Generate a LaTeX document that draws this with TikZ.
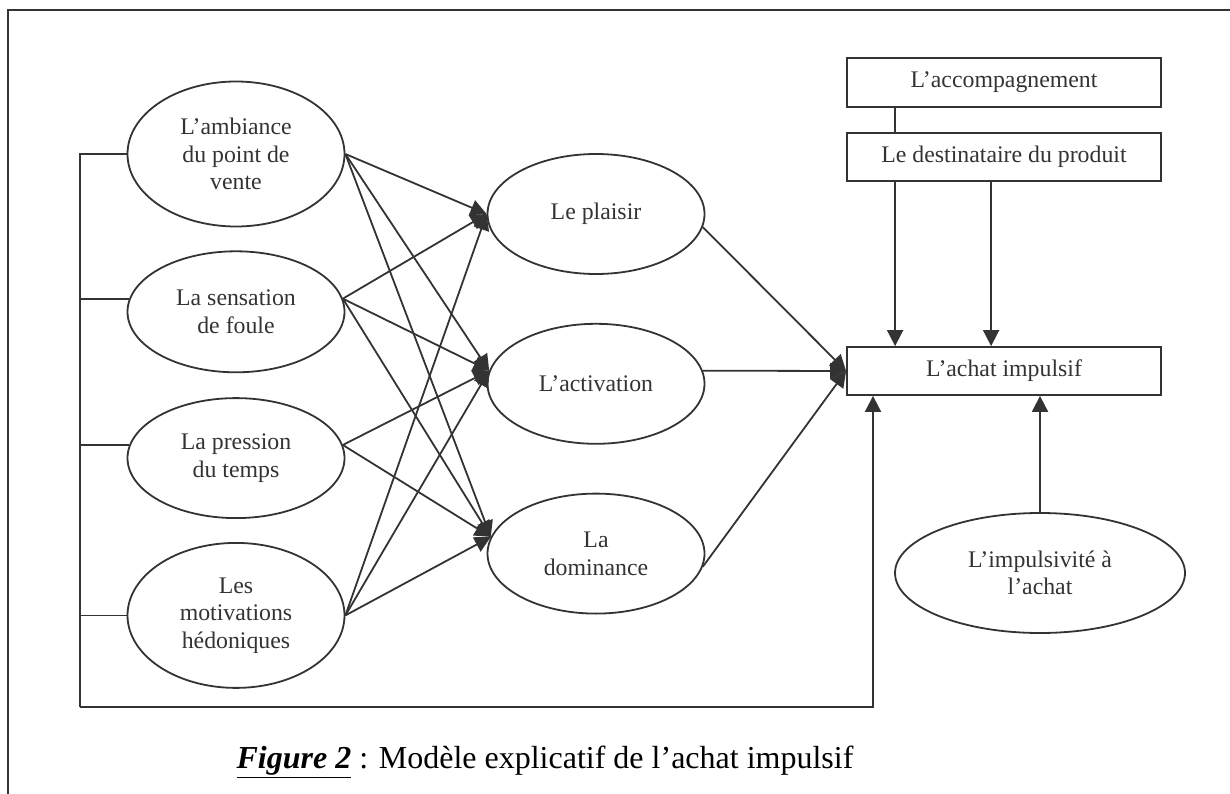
\documentclass[tikz,border=0pt]{standalone}
\usepackage{fontspec}
\setmainfont{Liberation Serif}
\usepackage{tikz}
\usetikzlibrary{arrows.meta,positioning,shapes}
\definecolor{ink}{HTML}{333333}
\tikzset{
    %Define standard arrow tip
    >={Triangle[length=16pt,width=16pt]},
    %Define style for ellipses
    leftnode/.style={
             ellipse,
             draw=ink, line width=1.8pt,
             text=ink, align=center, inner sep=0pt,
             minimum width=217pt, minimum height=121pt,
             font=\fontsize{23.8}{27.5}\selectfont},
    %Define style for boxes
    boxnode/.style={
             rectangle,
             draw=ink, line width=1.8pt,
             text=ink, inner sep=0pt,
             minimum width=314pt, minimum height=48pt,
             font=\fontsize{23.8}{27.5}\selectfont},
    % Define arrow style
    linkarrow/.style={
            ->,
            draw=ink, line width=1.8pt},
    linkline/.style={
            draw=ink, line width=1.8pt}
}
\begin{document}
\begin{tikzpicture}[x=1pt, y=1pt]
 \useasboundingbox (0,0) rectangle (1230,-794);
 % frame
 \draw[linkline] (8,-794) -- (8,-10) -- (1230,-10);
 % antecedents
 \node[leftnode, minimum height=145pt] (ambiance) at (236,-154) {L’ambiance\\du point de\\vente};
 \node[leftnode, below=23pt of ambiance] (foule) {La sensation\\de foule};
 \node[leftnode, minimum height=120pt, below=24pt of foule] (temps) {La pression\\du temps};
 \node[leftnode, minimum height=145pt, below=23pt of temps] (hedon) {Les\\motivations\\hédoniques};
 % emotions
 \node[leftnode, minimum height=120pt] (plaisir) at (596,-214) {Le plaisir};
 \node[leftnode, minimum height=120pt, below=48pt of plaisir] (activ) {L’activation};
 \node[leftnode, minimum height=120pt, below=48pt of activ] (domin) {La\\dominance};
 % right side
 \node[boxnode, minimum height=49pt] (accomp) at (1004,-82.5) {L’accompagnement};
 \node[boxnode, below=24pt of accomp] (destin) {Le destinataire du produit};
 \node[boxnode] (achat) at (1004,-371) {L’achat impulsif};
 \node[leftnode, minimum width=290pt, minimum height=120pt] (impuls) at (1040,-573) {L’impulsivité à\\l’achat};
 \coordinate (rail) at (80,-707);
 \coordinate (corner) at (873,-707);
 \path (ambiance.east) edge[linkarrow] (plaisir.west)
       (ambiance.east) edge[linkarrow] (activ.173)
       (ambiance.east) edge[linkarrow] (domin.171)
       (foule.7) edge[linkarrow] (plaisir.west)
       (foule.7) edge[linkarrow] (activ.173)
       (foule.7) edge[linkarrow] (domin.171)
       (temps.7) edge[linkarrow] (activ.173)
       (temps.7) edge[linkarrow] (domin.171)
       (hedon.east) edge[linkarrow] (plaisir.west)
       (hedon.east) edge[linkarrow] (activ.173)
       (hedon.east) edge[linkarrow] (domin.171)
       (plaisir.-7) edge[linkarrow] (achat.west)
       (activ.7) edge[linkarrow] (achat.west)
       (domin.-7) edge[linkarrow] (achat.west);
 \draw[linkline] ([xshift=49pt]accomp.south west) -- ([xshift=49pt]destin.north west);
 \draw[linkarrow] ([xshift=49pt]destin.south west) -- ([xshift=49pt]achat.north west);
 \draw[linkarrow] ([xshift=145pt]destin.south west) -- ([xshift=145pt]achat.north west);
 \draw[linkarrow] (impuls.north) -- (impuls.north |- achat.south);
 % bracket and loop to the purchase
 \draw[linkline] (ambiance.west) -- (ambiance.west -| rail) -- (rail);
 \draw[linkline] (foule.173) -- (foule.173 -| rail);
 \draw[linkline] (temps.173) -- (temps.173 -| rail);
 \draw[linkline] (hedon.west) -- (hedon.west -| rail);
 \draw[linkarrow] (rail) -- (corner) -- (corner |- achat.south);
 % caption
 \node[text=black, font=\fontsize{32}{36}\selectfont] (caption) at (545,-762)
   {\underline{\textbf{\textit{Figure 2}}} : Modèle explicatif de l’achat impulsif};
\end{tikzpicture}
\end{document}
